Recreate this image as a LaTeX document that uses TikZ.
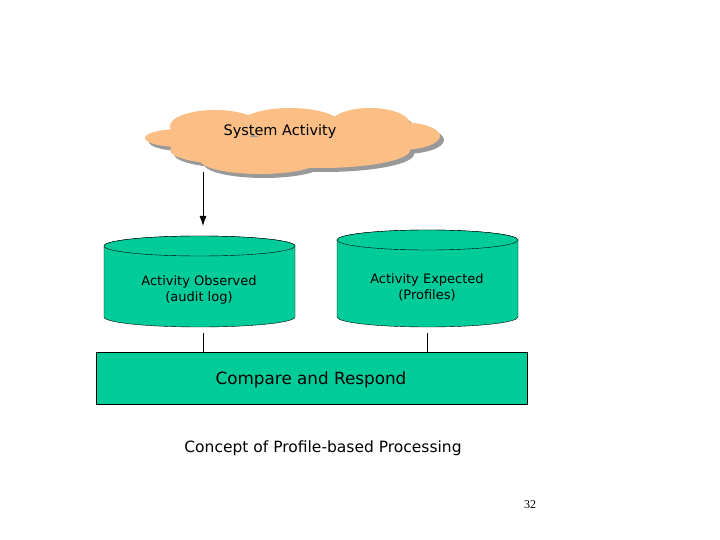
\documentclass[tikz,border=0pt]{standalone}
\usepackage{fontspec}
\usetikzlibrary{arrows.meta}
\setmainfont{DejaVu Sans}
\newfontfamily\numfont{Liberation Serif}
\definecolor{teal1}{HTML}{00CC99}
\definecolor{cloudc}{HTML}{FBBF86}
\definecolor{shad}{HTML}{999999}
\begin{document}
\begin{tikzpicture}[x=1pt,y=-1pt,
  lbl/.style={font=\fontsize{13}{16}\selectfont,align=center},
  big/.style={font=\fontsize{16.8}{20}\selectfont}]
\useasboundingbox (0,0) rectangle (720,540);
% cloud
\def\cloudparts{
  (215,126) ellipse (45 and 16)
  (290,124) ellipse (50 and 16)
  (370,124) ellipse (40 and 16)
  (400,136) ellipse (40 and 14)
  (320,150) ellipse (90 and 18)
  (230,150) ellipse (60 and 14)
  (180,138) ellipse (35 and 9)
  (260,160) ellipse (60 and 14)
}
\fill[shad,shift={(4,4)}] \cloudparts;
\fill[cloudc] \cloudparts;
\node[font=\fontsize{14.5}{17}\selectfont] (sys) at (280,132) {System Activity};
% cylinders
\fill[teal1,draw=black] (104,246) -- (104,317) arc[start angle=180,end angle=0,x radius=95.5,y radius=10] -- (295,246) arc[start angle=0,end angle=-180,x radius=95.5,y radius=10] -- cycle;
\draw[fill=teal1] (199.5,246) ellipse (95.5 and 10);
\fill[teal1,draw=black] (337,240) -- (337,317) arc[start angle=180,end angle=0,x radius=90.5,y radius=10] -- (518,240) arc[start angle=0,end angle=-180,x radius=90.5,y radius=10] -- cycle;
\draw[fill=teal1] (427.5,240) ellipse (90.5 and 10);
\node[lbl] (obs) at (199,290) {Activity Observed\\(audit log)};
\node[lbl] (exp) at (427,287) {Activity Expected\\(Profiles)};
\coordinate (a1) at (203,172);
\coordinate (a2) at (203,226);
\draw[-{Latex[length=10pt,width=7pt]},thick] (a1) -- (a2);
% compare box
\node[draw,fill=teal1,minimum width=431,minimum height=52,inner sep=0,anchor=north west] (cmp) at (96,352) {};
\node[big] (cmptxt) at (311,380) {Compare and Respond};
\coordinate (l1a) at (203,333); \coordinate (l1b) at (203,352);
\coordinate (l2a) at (427,333); \coordinate (l2b) at (427,352);
\draw (l1a) -- (l1b); \draw (l2a) -- (l2b);
\node[font=\fontsize{15.5}{18}\selectfont] (cap) at (323,448) {Concept of Profile-based Processing};
\node[font=\fontsize{12}{14}\selectfont\numfont] (num) at (530,505) {32};
\end{tikzpicture}
\end{document}
